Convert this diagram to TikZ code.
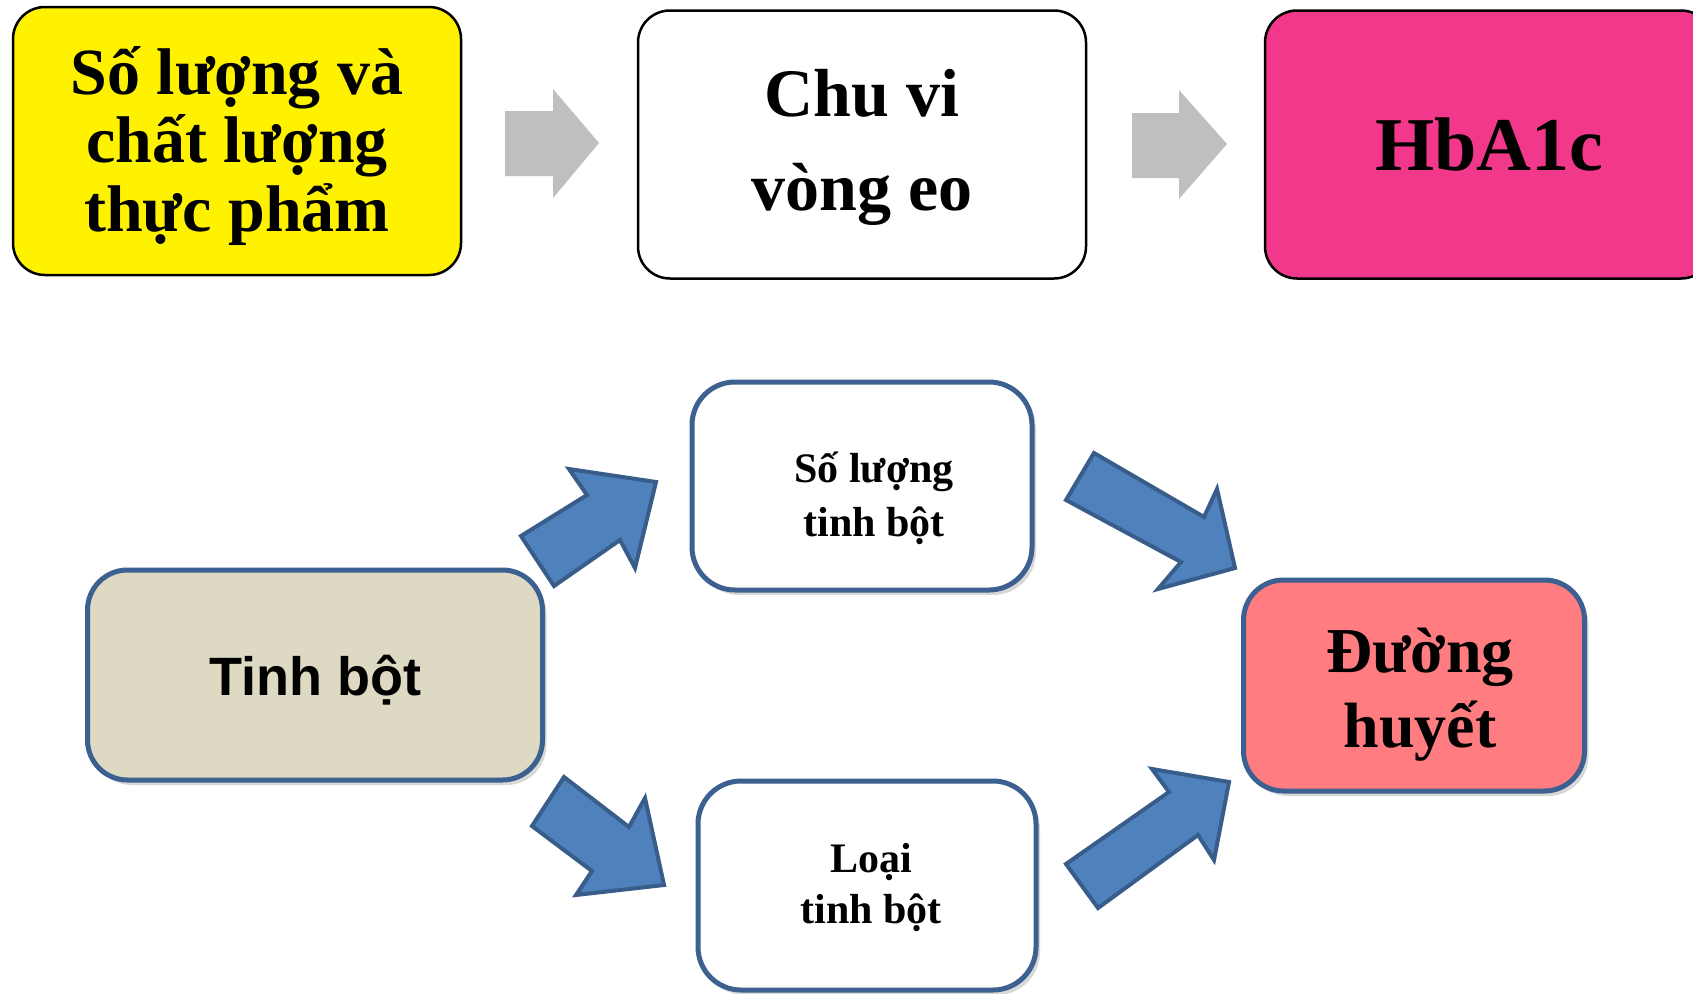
\documentclass[tikz,border=0pt]{standalone}
\usepackage{fontspec}
\setmainfont{Liberation Serif}
\setsansfont{Liberation Sans}
\usepackage{graphicx}
\usetikzlibrary{shadows}
\definecolor{grayarr}{RGB}{191,191,191}
\definecolor{bborder}{RGB}{60,96,144}
\definecolor{bfill}{RGB}{79,129,189}
\definecolor{aborder}{RGB}{56,93,138}
\definecolor{tanfill}{RGB}{221,217,195}
\definecolor{salmonfill}{RGB}{255,124,128}
\definecolor{pinkfill}{RGB}{242,56,138}
\newcommand\lns[1]{\begin{tabular}{@{}c@{}}#1\end{tabular}}
\newcommand\lowered[2]{\raisebox{-#1}[\height][\depth]{#2}}
\begin{document}
\begin{tikzpicture}[x=1pt,y=-1pt,
 topbox/.style={draw=black, line width=2.5pt, rounded corners=32pt, minimum width=448pt, minimum height=268pt, inner sep=0pt, font=\bfseries},
 lowbox/.style={draw=bborder, line width=5pt, rounded corners=40pt, inner sep=0pt, drop shadow={shadow xshift=4pt, shadow yshift=-5pt, opacity=0.3}, font=\bfseries},
 grayarrow/.style={fill=grayarr},
 bluearrow/.style={fill=bfill, draw=aborder, line width=4pt, line join=miter}]
\clip (0,0) rectangle (1693,993);
\fill[white] (0,0) rectangle (1693,993);

% top row
\node[topbox, fill=yellow] (food) at (237,141) {\fontsize{66}{68}\selectfont\lowered{8pt}{\lns{Số lượng và\\chất lượng\\thực phẩm}}};
\node[topbox, fill=white] (waist) at (862,144.5) {\fontsize{68}{94}\selectfont\lns{Chu vi\\vòng eo}};
\node[topbox, fill=pinkfill] (hba) at (1489,144.5) {\fontsize{76}{90}\selectfont HbA1c};

\fill[grayarrow] (505,111) -- (553,111) -- (553,89) -- (599,143) -- (553,198) -- (553,176) -- (505,176) -- cycle;
\fill[grayarrow] (1132,113) -- (1179,113) -- (1179,90) -- (1227,144) -- (1179,199) -- (1179,178) -- (1132,178) -- cycle;

% lower part
\node[lowbox, fill=tanfill, minimum width=455pt, minimum height=210pt] (starch) at (315,675) {\sffamily\fontsize{54}{60}\selectfont\lowered{5pt}{Tinh bột}};
\node[lowbox, fill=white, minimum width=340pt, minimum height=208pt, rounded corners=43pt] (amount) at (862,486) {\fontsize{42}{54}\selectfont\hspace*{24pt}\lowered{13pt}{\lns{Số lượng\\tinh bột}}};
\node[lowbox, fill=white, minimum width=338pt, minimum height=209pt, rounded corners=43pt] (kind) at (867,885.5) {\fontsize{42}{51}\selectfont\hspace*{8pt}\lowered{2pt}{\lns{Loại\\tinh bột}}};
\node[lowbox, fill=salmonfill, minimum width=341pt, minimum height=211pt] (glucose) at (1414,685.5) {\fontsize{64}{75}\selectfont\hspace*{12pt}\lowered{9pt}{\lns{Đường\\huyết}}};

% block arrows
\draw[bluearrow] (521,536) -- (587,495) -- (569,469) -- (656,482) -- (635,568) -- (620,540) -- (554,586) -- cycle;
\draw[bluearrow] (1094,453) -- (1204,517) -- (1217,489) -- (1235,568) -- (1158,589) -- (1181,562) -- (1066,500) -- cycle;
\draw[bluearrow] (564,777) -- (629,827) -- (645,798) -- (664,885) -- (576,895) -- (592,871) -- (532,826) -- cycle;
\draw[bluearrow] (1066,864) -- (1169,792) -- (1152,769) -- (1229,782) -- (1214,860) -- (1198,835) -- (1098,908) -- cycle;
\end{tikzpicture}
\end{document}
